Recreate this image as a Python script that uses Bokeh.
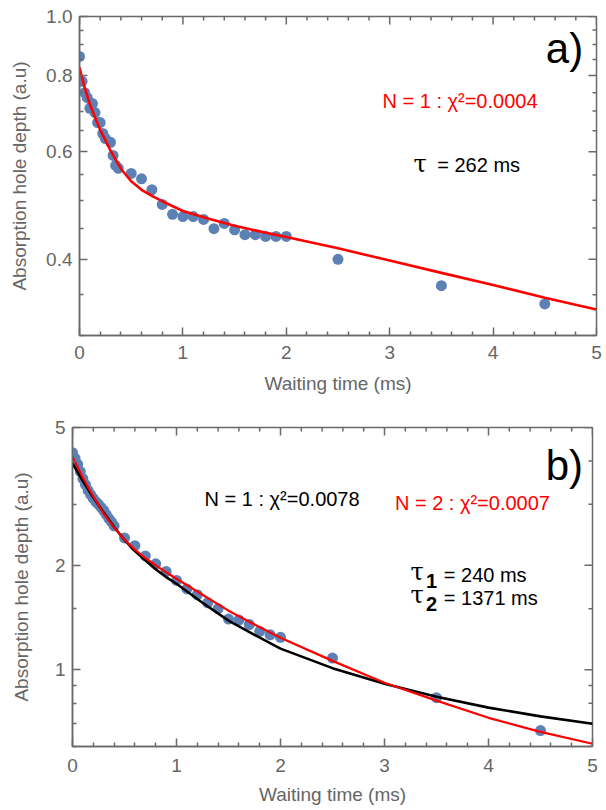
import numpy as np
from bokeh.plotting import figure
from bokeh.models import FixedTicker, Range1d, PrintfTickFormatter
from bokeh.core.properties import value
from bokeh.embed import file_html
from bokeh.resources import INLINE

# ---------------- data: panel a ----------------
t_a = [0, 0.025, 0.05, 0.075, 0.1, 0.125, 0.15, 0.175, 0.2, 0.225, 0.25, 0.3, 0.325,
       0.35, 0.375, 0.5, 0.6, 0.7, 0.8, 0.9, 1.0, 1.1, 1.2, 1.3, 1.4, 1.5, 1.6, 1.7,
       1.8, 1.9, 2.0, 2.5, 3.5, 4.5]
depth_a = [0.860, 0.783, 0.750, 0.736, 0.707, 0.720, 0.696, 0.670, 0.670, 0.643, 0.631,
           0.622, 0.592, 0.570, 0.564, 0.553, 0.542, 0.520, 0.492, 0.474, 0.470, 0.470,
           0.465, 0.449, 0.458, 0.447, 0.439, 0.439, 0.436, 0.436, 0.436, 0.400, 0.362, 0.338]
fit_a_t = [0, 0.05, 0.1, 0.15, 0.2, 0.3, 0.4, 0.5, 0.6, 0.7, 0.8, 1.0, 1.25, 1.5, 1.75,
           2.0, 2.5, 3.0, 3.5, 4.0, 4.5, 5.0]
fit_a_y = [0.825, 0.765, 0.718, 0.683, 0.652, 0.603, 0.563, 0.537, 0.520, 0.508, 0.498,
           0.480, 0.466, 0.454, 0.444, 0.435, 0.417, 0.398, 0.380, 0.363, 0.346, 0.331]

# ---------------- data: panel b ----------------
t_b = [0, 0.025, 0.05, 0.075, 0.1, 0.125, 0.15, 0.175, 0.2, 0.225, 0.25, 0.275, 0.3,
       0.325, 0.35, 0.375, 0.4, 0.5, 0.6, 0.7, 0.8, 0.9, 1.0, 1.1, 1.2, 1.3, 1.4, 1.5,
       1.6, 1.7, 1.8, 1.9, 2.0, 2.5, 3.5, 4.5]
depth_b = [4.23, 4.07, 3.91, 3.73, 3.56, 3.42, 3.29, 3.20, 3.12, 3.05, 3.00, 2.94, 2.88,
           2.80, 2.73, 2.67, 2.60, 2.40, 2.28, 2.13, 2.02, 1.92, 1.81, 1.71, 1.645, 1.56,
           1.50, 1.40, 1.39, 1.35, 1.29, 1.26, 1.24, 1.08, 0.83, 0.667]
fit_b_t = [0, 0.1, 0.2, 0.3, 0.4, 0.5, 0.6, 0.7, 0.8, 0.9, 1.0, 1.25, 1.5, 1.75, 2.0,
           2.5, 3.0, 3.5, 4.0, 4.5, 5.0]
fit_b_n1 = [3.94, 3.50, 3.14, 2.84, 2.58, 2.37, 2.20, 2.07, 1.95, 1.85, 1.77, 1.56, 1.385,
            1.26, 1.15, 1.01, 0.91, 0.835, 0.777, 0.733, 0.698]
fit_b_n2 = [4.12, 3.58, 3.16, 2.82, 2.57, 2.37, 2.22, 2.10, 2.00, 1.91, 1.83, 1.645, 1.48,
            1.35, 1.236, 1.06, 0.917, 0.814, 0.726, 0.661, 0.611]

x_major = [0, 1, 2, 3, 4, 5]
x_minor = [round(0.2 * i, 1) for i in range(26) if i % 5 != 0]
ya_major = [0.4, 0.6, 0.8, 1.0]
ya_minor = [0.3, 0.35, 0.45, 0.5, 0.55, 0.65, 0.7, 0.75, 0.85, 0.9, 0.95]
yb_major = [1, 2, 5]
yb_minor = [0.6, 0.7, 0.8, 0.9, 1.5, 3, 4]

DOT = "#5E81B5"
AX = "#6a6a6a"
AXW = 1.5
LBL = "#666666"
FONT = "Liberation Sans"


def style_axis(ax, standoff=8, title_standoff=10):
    ax.axis_line_color = AX
    ax.axis_line_width = AXW
    ax.major_tick_line_color = AX
    ax.major_tick_line_width = AXW
    ax.minor_tick_line_color = AX
    ax.minor_tick_line_width = AXW
    ax.major_tick_in = 8
    ax.major_tick_out = 0
    ax.minor_tick_in = 4
    ax.minor_tick_out = 0
    ax.major_label_text_color = LBL
    ax.major_label_text_font = FONT
    ax.major_label_text_font_size = "19px"
    ax.major_label_standoff = standoff
    ax.axis_label_text_color = LBL
    ax.axis_label_text_font = FONT
    ax.axis_label_text_font_style = "normal"
    ax.axis_label_text_font_size = "19px"
    ax.axis_label_standoff = title_standoff


def make_fig(h, yr, y_major, y_minor, fmt, border, ax_std):
    l, r, t, b = border
    p = figure(width=602, height=h, x_range=Range1d(0, 5), y_range=Range1d(*yr),
               y_axis_type="log", output_backend="svg", toolbar_location=None,
               min_border_left=l, min_border_right=r, min_border_top=t, min_border_bottom=b)
    p.xgrid.visible = False
    p.ygrid.visible = False
    p.outline_line_color = AX
    p.outline_line_width = AXW
    p.background_fill_color = "white"
    p.border_fill_color = "white"
    bottom = p.below[0]
    left = p.left[0]
    bottom.ticker = FixedTicker(ticks=x_major, minor_ticks=x_minor)
    left.ticker = FixedTicker(ticks=y_major, minor_ticks=y_minor)
    left.formatter = fmt
    bottom.axis_label = "Waiting time (ms)"
    left.axis_label = "Absorption hole depth (a.u)"
    style_axis(bottom, *ax_std[0])
    style_axis(left, *ax_std[1])
    # mirrored inward ticks on the top and right frame edges (half of each dash is clipped)
    y_top = yr[1]
    p.scatter(x_major, [y_top] * len(x_major), marker="dash", angle=np.pi / 2, size=16,
              line_color=AX, line_width=AXW)
    p.scatter(x_minor, [y_top] * len(x_minor), marker="dash", angle=np.pi / 2, size=8,
              line_color=AX, line_width=AXW)
    p.scatter([5] * len(y_major), y_major, marker="dash", size=16, line_color=AX, line_width=AXW)
    p.scatter([5] * len(y_minor), y_minor, marker="dash", size=8, line_color=AX, line_width=AXW)
    return p


def txt(p, x, y, s, size="20px", color="black", font=FONT, style="normal"):
    p.text(x=[x], y=[y], text=[s], text_font=value(font), text_font_size=size,
           text_color=color, text_baseline="middle", text_align="left",
           text_font_style=style)


# ---------------- panel a ----------------
pa = make_fig(400, (0.30, 1.0), ya_major, ya_minor, PrintfTickFormatter(format="%.1f"),
              (79, 6, 16, 65), ((10, 11), (7, 13)))
pa.scatter(t_a, depth_a, size=11, color=DOT, line_color=None)
pa.line(fit_a_t, fit_a_y, line_color="#ff0000", line_width=2.6)
txt(pa, 4.51, 0.885, "a)", size="42px")
txt(pa, 2.93, 0.726, "N = 1 : χ²=0.0004", color="#ff0000")
txt(pa, 3.23, 0.574, "τ", size="24px", font="DejaVu Serif")
txt(pa, 3.46, 0.572, "= 262 ms")

# ---------------- panel b ----------------
pb = make_fig(410, (0.6, 5.0), yb_major, yb_minor, PrintfTickFormatter(format="%d"),
              (72, 10, 27, 64), ((12, 9), (7, 20)))
pb.scatter(t_b, depth_b, size=11, color=DOT, line_color=None)
pb.line(fit_b_t, fit_b_n1, line_color="black", line_width=2.6)
pb.line(fit_b_t, fit_b_n2, line_color="#ff0000", line_width=2.2)
txt(pb, 4.55, 3.88, "b)", size="42px")
txt(pb, 1.27, 3.10, "N = 1 : χ²=0.0078")
txt(pb, 3.10, 3.02, "N = 2 : χ²=0.0007", color="#ff0000")
txt(pb, 3.25, 1.91, "τ", size="24px", font="DejaVu Serif")
txt(pb, 3.40, 1.80, "1", size="20px", style="bold")
txt(pb, 3.57, 1.88, "= 240 ms")
txt(pb, 3.25, 1.64, "τ", size="24px", font="DejaVu Serif")
txt(pb, 3.40, 1.55, "2", size="20px", style="bold")
txt(pb, 3.57, 1.61, "= 1371 ms")

open("out.html", "w").write(file_html([pa, pb], INLINE))
